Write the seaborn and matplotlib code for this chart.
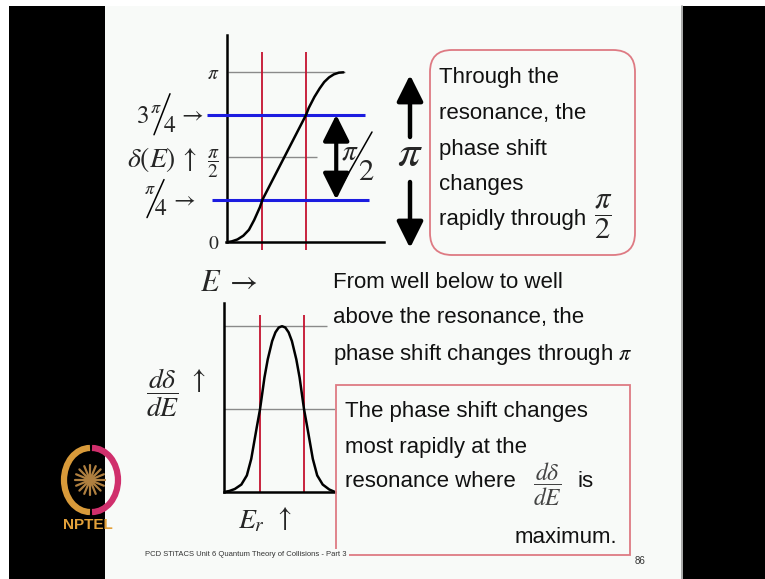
import numpy as np
import pandas as pd
import matplotlib
matplotlib.use("Agg")
import matplotlib.pyplot as plt
import matplotlib.transforms as mtransforms
from matplotlib.patches import Rectangle, FancyBboxPatch, FancyArrowPatch, Arc, Circle
from matplotlib.lines import Line2D
import seaborn as sns

# ---- data -------------------------------------------------------------
# phase shift delta(E) / pi across the resonance (E measured from E_r in units of Gamma/2)
energy_phase = [-2.57, -2.4, -2.15, -1.88, -1.62, -1.38, -1.12, -1.0, -0.5, 0.0,
                0.5, 1.0, 1.12, 1.38, 1.62, 1.83, 2.05, 2.27, 2.5, 2.71]
phase_over_pi = [0.0, 0.004, 0.015, 0.037, 0.072, 0.13, 0.205, 0.25, 0.375, 0.5,
                 0.625, 0.75, 0.79, 0.855, 0.905, 0.943, 0.97, 0.988, 0.998, 1.0]

# d(delta)/dE normalised to its maximum
energy_rate = [-2.64, -2.4, -2.15, -1.85, -1.6, -1.4, -1.15, -1.0, -0.8, -0.65,
               -0.45, -0.3, -0.15, 0.0, 0.15, 0.3, 0.45, 0.65, 0.8, 1.0,
               1.15, 1.4, 1.6, 1.85, 2.15, 2.41]
rate = [0.0, 0.006, 0.018, 0.045, 0.1, 0.2, 0.39, 0.5, 0.69, 0.8,
        0.91, 0.963, 0.992, 1.0, 0.992, 0.963, 0.91, 0.8, 0.69, 0.5,
        0.39, 0.2, 0.1, 0.045, 0.015, 0.0]

half_width_marks = [-1.0, 1.0]          # E_r -/+ Gamma/2
phase_levels = [0.25, 0.75]             # pi/4 and 3pi/4 (in units of pi)
phase_ticks = [0.0, 0.5, 1.0]           # 0, pi/2, pi (in units of pi)
phase_tick_labels = [r"$0$", r"$\dfrac{\pi}{2}$", r"$\pi$"]
rate_levels = [0.5, 1.0]                # half maximum and maximum

phase_df = pd.DataFrame({"E": energy_phase, "delta": np.array(phase_over_pi) * np.pi})
rate_df = pd.DataFrame({"E": energy_rate, "rate": rate})

# ---- style ------------------------------------------------------------
sns.set_style("white")
plt.rcParams["font.family"] = ["Liberation Sans", "DejaVu Sans"]
plt.rcParams["mathtext.fontset"] = "stix"

W, H = 765, 579
fig = plt.figure(figsize=(W / 100, H / 100), dpi=100)
fig.patch.set_facecolor("white")
# pixel coordinates measured from the top-left corner
T_px = mtransforms.Affine2D().scale(1 / W, -1 / H).translate(0, 1) + fig.transFigure

RED = "#c4122f"
BLUE = "#1c1ce0"
GRAY = "#8a8a8a"
PINK = "#de7a83"
SLIDE = "#f8faf8"

# slide background and side bars
fig.add_artist(Rectangle((105, 6), 578, 573, transform=T_px, facecolor=SLIDE,
                         edgecolor="none", zorder=0))
fig.add_artist(Rectangle((9, 6), 96, 573, transform=T_px, facecolor="black",
                         edgecolor="none", zorder=0))
fig.add_artist(Rectangle((683, 6), 82, 573, transform=T_px, facecolor="black",
                         edgecolor="none", zorder=0))
fig.add_artist(Line2D([682.5, 682.5], [6, 579], transform=T_px, color="#9a9a9a", lw=1.2))


def style_axes(ax):
    ax.set_facecolor("none")
    for s in ("top", "right"):
        ax.spines[s].set_visible(False)
    for s in ("left", "bottom"):
        ax.spines[s].set_color("black")
        ax.spines[s].set_linewidth(1.8)
    ax.set_xlabel("")
    ax.set_ylabel("")


# ---- top panel: delta(E) ---------------------------------------------
ax1 = fig.add_axes([226.5 / W, 1 - 242 / H, (384 - 226.5) / W, (242 - 35) / H])
ax1.set_xlim(-2.65, 4.57)
ax1.set_ylim(0, 1.22 * np.pi)

ax1.hlines(np.pi, -2.58, 2.78, color=GRAY, lw=1.0, zorder=1)
ax1.hlines(np.pi / 2, -2.58, 1.5, color=GRAY, lw=1.0, zorder=1)
ax1.vlines(half_width_marks, -0.047 * np.pi, 1.12 * np.pi, colors=RED, lw=1.3,
           zorder=2, clip_on=False)
ax1.hlines(phase_levels[1] * np.pi, -3.55, 3.72, color=BLUE, lw=2.2, zorder=3, clip_on=False)
ax1.hlines(phase_levels[0] * np.pi, -3.32, 3.89, color=BLUE, lw=2.2, zorder=3, clip_on=False)
sns.lineplot(data=phase_df, x="E", y="delta", ax=ax1, color="black", lw=1.8, zorder=4)
style_axes(ax1)
ax1.set_xticks([])
ax1.set_yticks(np.array(phase_ticks) * np.pi)
ax1.set_yticklabels(phase_tick_labels)
ax1.tick_params(axis="y", length=0, pad=5, labelsize=14)

# pi/2 double arrow between the two blue levels
ax1.annotate("", xy=(2.38, phase_levels[0] * np.pi), xytext=(2.38, phase_levels[1] * np.pi),
             arrowprops=dict(arrowstyle="<|-|>,head_length=0.8,head_width=0.4",
                             mutation_scale=20, lw=3, color="black",
                             shrinkA=0, shrinkB=0))

# ---- bottom panel: d delta / dE --------------------------------------
ax2 = fig.add_axes([224 / W, 1 - 492 / H, (335 - 224) / W, (492 - 303) / H])
ax2.set_xlim(-2.64, 2.41)
ax2.set_ylim(0, 1.14)
ax2.hlines(rate_levels[1], -2.64, 2.05, color=GRAY, lw=1.0, zorder=1)
ax2.hlines(rate_levels[0], -2.64, 2.41, color=GRAY, lw=1.0, zorder=1)
ax2.vlines(half_width_marks, 0, 1.07, colors=RED, lw=1.3, zorder=2, clip_on=False)
sns.lineplot(data=rate_df, x="E", y="rate", ax=ax2, color="black", lw=1.8, zorder=4)
style_axes(ax2)
ax2.set_yticks([])
ax2.set_xticks([0])
ax2.tick_params(axis="x", direction="in", length=3, width=1, labelbottom=False)


def y_of(ax, v):
    disp = ax.transData.transform((0, v))
    return (1 - fig.transFigure.inverted().transform(disp)[1]) * H


def ftext(x, y, s, **kw):
    kw.setdefault("va", "center")
    kw.setdefault("ha", "center")
    return fig.text(x, y, s, transform=T_px, **kw)


def slash(x0, y0, x1, y1):
    fig.add_artist(Line2D([x0, x1], [y0, y1], transform=T_px, color="black", lw=1.1))


# labels of the blue levels
Y3 = y_of(ax1, phase_levels[1] * np.pi)
ftext(142, Y3 + 1, r"$3$", fontsize=18)
ftext(156, Y3 - 6, r"$\pi$", fontsize=13)
slash(154, Y3 + 20, 170, Y3 - 21)
ftext(170, Y3 + 11, r"$4$", fontsize=17)
ftext(191, Y3, r"$\rightarrow$", fontsize=17)

Y1 = y_of(ax1, phase_levels[0] * np.pi)
ftext(150, Y1 - 10, r"$\pi$", fontsize=13)
slash(147, Y1 + 18, 164, Y1 - 20)
ftext(161, Y1 + 9, r"$4$", fontsize=17)
ftext(183, Y1, r"$\rightarrow$", fontsize=17)

# axis captions
ftext(127, 160, r"$\delta(E)\,\uparrow$", fontsize=20, ha="left")
ftext(200, 283, r"$E\;\rightarrow$", fontsize=22, ha="left")
ftext(163, 393, r"$\dfrac{d\delta}{dE}$", fontsize=20)
ftext(196, 380, r"$\uparrow$", fontsize=20)
ftext(252, 521, r"$E_r$", fontsize=20)
ftext(282, 518, r"$\uparrow$", fontsize=20)

# pi/2 beside the double arrow
ftext(350, 152, r"$\pi$", fontsize=21)
slash(343, 183, 372, 132)
ftext(366, 172, r"$2$", fontsize=22)

# total change of pi
ftext(410, 155, r"$\pi$", fontsize=32)
for y0, y1 in ((137, 75), (182, 248)):
    fig.add_artist(FancyArrowPatch((410, y0), (410, y1), transform=T_px,
                                   arrowstyle="-|>,head_length=0.8,head_width=0.4",
                                   mutation_scale=20, lw=3.2, color="black",
                                   shrinkA=0, shrinkB=0))

# ---- text boxes -------------------------------------------------------
fig.add_artist(FancyBboxPatch((430, 50), 205, 205, transform=T_px,
                              boxstyle="round,pad=0,rounding_size=22",
                              facecolor="none", edgecolor=PINK, lw=1.3))
box1_lines = ["Through the", "resonance, the", "phase shift", "changes", "rapidly through"]
for line, yb in zip(box1_lines, [83, 119, 155, 190, 225]):
    ftext(439, yb, line, fontsize=16, ha="left", va="baseline", color="#111111")
ftext(603, 217, r"$\dfrac{\pi}{2}$", fontsize=22)

mid_lines = ["From well below to well", "above the resonance, the",
             r"phase shift changes through $\pi$"]
for line, yb in zip(mid_lines, [288, 323, 360]):
    ftext(333, yb, line, fontsize=16, ha="left", va="baseline", color="#111111")

fig.add_artist(Rectangle((336, 385), 294, 170, transform=T_px, facecolor="none",
                         edgecolor=PINK, lw=1.3))
box2_lines = ["The phase shift changes", "most rapidly at the", "resonance where"]
for line, yb in zip(box2_lines, [417, 453, 487]):
    ftext(345, yb, line, fontsize=16, ha="left", va="baseline", color="#111111")
ftext(547, 484, r"$\dfrac{d\delta}{dE}$", fontsize=17, color="#444444")
ftext(578, 487, "is", fontsize=16, ha="left", va="baseline", color="#111111")
ftext(617, 543, "maximum.", fontsize=16, ha="right", va="baseline", color="#111111")

# footer
ftext(145, 555, "PCD STiTACS Unit 6 Quantum Theory of Collisions - Part 3", fontsize=5.5,
      ha="left", color="#333333",
      bbox=dict(facecolor=SLIDE, edgecolor="none", pad=1.5))
ftext(640, 561, "86", fontsize=7, color="#333333")

# ---- NPTEL emblem -----------------------------------------------------
fig.add_artist(Arc((90, 480), 52, 64, theta1=90, theta2=270, transform=T_px,
                   color="#d89a3a", lw=4.5))
fig.add_artist(Arc((92, 480), 52, 64, theta1=-90, theta2=90, transform=T_px,
                   color="#d02f6c", lw=4.5))
for ang in np.arange(0, 180, 22.5):
    dx, dy = 15 * np.cos(np.radians(ang)), 15 * np.sin(np.radians(ang))
    fig.add_artist(Line2D([90 - dx, 90 + dx], [480 - dy, 480 + dy], transform=T_px,
                          color="#b08040", lw=1.6))
fig.add_artist(Circle((90, 480), 3, transform=T_px, color="#d02f6c"))
ftext(88, 525, "NPTEL", fontsize=11, fontweight="bold", color="#e3a13a")

fig.savefig("out.png", dpi=100, facecolor=fig.get_facecolor())
